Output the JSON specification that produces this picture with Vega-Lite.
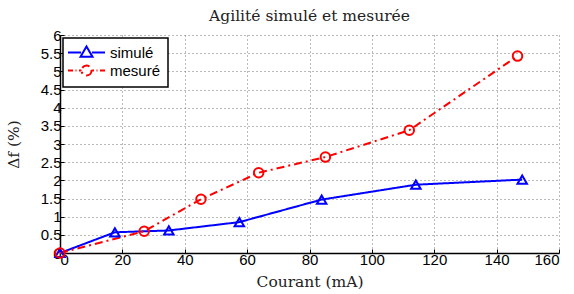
{
  "$schema": "https://vega.github.io/schema/vega-lite/v6.json",
  "width": 499,
  "height": 218,
  "autosize": {"type": "none"},
  "padding": {"left": 60, "top": 35, "right": 15, "bottom": 41},
  "background": "white",
  "title": {"text": "Agilité simulé et mesurée", "font": "DejaVu Serif", "fontSize": 15.5, "fontWeight": "normal", "color": "#222", "offset": 4},
  "data": {"values": [
    {"serie": "simulé", "courant": 0, "df": 0},
    {"serie": "simulé", "courant": 17.6, "df": 0.57},
    {"serie": "simulé", "courant": 34.9, "df": 0.62},
    {"serie": "simulé", "courant": 57.5, "df": 0.85},
    {"serie": "simulé", "courant": 83.9, "df": 1.47},
    {"serie": "simulé", "courant": 114.1, "df": 1.88},
    {"serie": "simulé", "courant": 148.2, "df": 2.02},
    {"serie": "mesuré", "courant": 0, "df": 0},
    {"serie": "mesuré", "courant": 27.0, "df": 0.6},
    {"serie": "mesuré", "courant": 45.2, "df": 1.48},
    {"serie": "mesuré", "courant": 63.7, "df": 2.21},
    {"serie": "mesuré", "courant": 85.1, "df": 2.64},
    {"serie": "mesuré", "courant": 112.0, "df": 3.38},
    {"serie": "mesuré", "courant": 146.7, "df": 5.42}
  ]},
  "encoding": {
    "x": {"field": "courant", "type": "quantitative", "scale": {"domain": [0, 160], "nice": false},
      "axis": {"title": "Courant (mA)", "values": [0,20,40,60,80,100,120,140,160], "format": "~r", "labelOverlap": false, "titleFont": "DejaVu Serif", "titleFontSize": 15.5, "titleFontWeight": "normal", "titleColor": "#222", "titlePadding": 7,
        "labelFont": "Liberation Sans", "labelFontSize": 15, "labelColor": "black", "labelPadding": 3,
        "domainColor": "black", "domainWidth": 1.5, "tickColor": "black", "tickSize": -4,
        "grid": true, "gridColor": "#777", "gridDash": [1, 3], "gridWidth": 1}},
    "y": {"field": "df", "type": "quantitative", "scale": {"domain": [0, 6], "nice": false},
      "axis": {"title": "Δf (%)", "values": [0,0.5,1,1.5,2,2.5,3,3.5,4,4.5,5,5.5,6], "format": "~r", "labelOverlap": false, "titleFont": "DejaVu Serif", "titleFontSize": 15.5, "titleFontWeight": "normal", "titleColor": "#222", "titlePadding": 19,
        "labelFont": "Liberation Sans", "labelFontSize": 15, "labelColor": "black", "labelPadding": 3,
        "domainColor": "black", "domainWidth": 1.5, "tickColor": "black", "tickSize": -4,
        "grid": true, "gridColor": "#777", "gridDash": [1, 3], "gridWidth": 1}},
    "color": {"field": "serie", "type": "nominal", "scale": {"domain": ["simulé", "mesuré"], "range": ["#0000ff", "#ff0000"]},
      "legend": {"title": null, "orient": "top-left", "offset": 3, "fillColor": "white", "strokeColor": "black", "padding": 7,
        "labelFont": "Liberation Sans", "labelFontSize": 15, "labelColor": "black", "symbolSize": 100, "symbolStrokeWidth": 2, "rowPadding": 0,
        "symbolOffset": 9, "labelOffset": 16, "symbolType": "circle",
        "encode": {
          "legend": {"update": {"strokeWidth": {"value": 1.5}}},
          "symbols": {"update": {
          "shape": {"signal": "datum.value === 'simulé' ? 'M-3.7,0H-1.1M1.1,0H3.7M-1.2,0.85L0,-1.2L1.2,0.85Z' : 'M-3.7,0H-2.7M-2.2,0H-2M-1.5,0H-1M1,0H1.5M2,0H2.2M2.7,0H3.7M1,0A1,1 0 1,1 -1,0A1,1 0 1,1 1,0'"},
          "fill": {"value": "transparent"}
        }}}}}
  },
  "layer": [
    {"mark": {"type": "line", "strokeWidth": 2},
     "encoding": {"strokeDash": {"field": "serie", "type": "nominal", "scale": {"domain": ["simulé", "mesuré"], "range": [[1, 0], [8, 4, 2, 4]]}, "legend": null}}},
    {"transform": [{"filter": "datum.serie === 'simulé'"}],
     "mark": {"type": "point", "shape": "triangle-up", "filled": false, "strokeWidth": 2, "opacity": 1, "size": 90}},
    {"transform": [{"filter": "datum.serie === 'mesuré'"}],
     "mark": {"type": "point", "shape": "circle", "filled": false, "strokeWidth": 2, "opacity": 1, "size": 90}}
  ],
  "config": {"view": {"stroke": null}}
}
